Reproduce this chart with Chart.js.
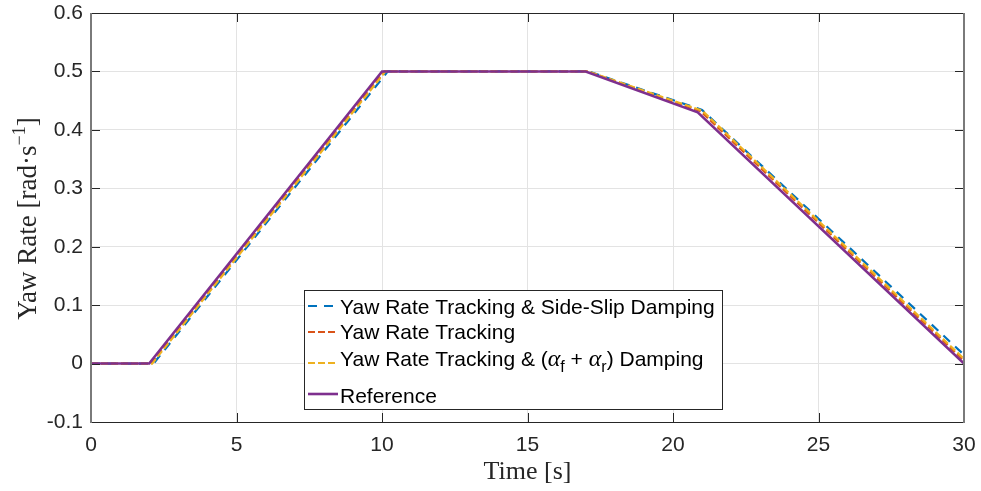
<!DOCTYPE html>
<html><head><meta charset="utf-8">
<script src="https://cdn.jsdelivr.net/npm/chart.js@4/dist/chart.umd.min.js"></script>
<style>html,body{margin:0;padding:0;background:#fff;}#wrap{width:981px;height:491px;position:relative;}</style>
</head><body><div id="wrap"><canvas id="c" width="981" height="491"></canvas></div>
<script>
// ---- data ----
const xTicks = [0, 5, 10, 15, 20, 25, 30];
const xTickLabels = ["0", "5", "10", "15", "20", "25", "30"];
const yTicks = [-0.1, 0, 0.1, 0.2, 0.3, 0.4, 0.5, 0.6];
const yTickLabels = ["-0.1", "0", "0.1", "0.2", "0.3", "0.4", "0.5", "0.6"];
const seriesNames = ["Yaw Rate Tracking & Side-Slip Damping", "Yaw Rate Tracking", "Yaw Rate Tracking & (αf + αr) Damping", "Reference"];
const xTitle = "Time [s]";
const yTitle = "Yaw Rate [rad·s";
const sideSlipT = [0, 2.15, 10.2, 17.1, 21.0, 30];
const sideSlipY = [0, 0, 0.5, 0.5, 0.434, 0.015];
const trackingT = [0, 2.05, 10.08, 17.05, 20.95, 30];
const trackingY = [0, 0, 0.5, 0.5, 0.432, 0.005];
const alphaT = [0, 2.1, 10.12, 17.08, 21.0, 30];
const alphaY = [0, 0, 0.5, 0.5, 0.433, 0.008];
const refT = [0, 2, 10, 17, 20.85, 30];
const refY = [0, 0, 0.5, 0.5, 0.43, 0];

const pts = (t, y) => t.map((v, i) => ({x: v, y: y[i]}));
const colors = ["#0072BD", "#D95319", "#EDB120", "#7E2F8E"];
const dashes = [[9, 7], [7, 3], [7, 3], []];
const widths = [2.2, 2.2, 2.2, 2.6];

const SANS = '"Liberation Sans", Arial, Helvetica, sans-serif';
const SERIF = '"Liberation Serif", "DejaVu Serif", serif';

const frame = {
  id: 'frame',
  afterDatasetsDraw(chart) {
    const {ctx, chartArea: a, scales} = chart;
    ctx.save();
    // inward ticks
    ctx.strokeStyle = '#262626'; ctx.lineWidth = 1;
    const L = 9;
    xTicks.forEach(v => {
      const px = Math.round(scales.x.getPixelForValue(v)) + 0.5;
      ctx.beginPath(); ctx.moveTo(px, a.bottom); ctx.lineTo(px, a.bottom - L);
      ctx.moveTo(px, a.top); ctx.lineTo(px, a.top + L); ctx.stroke();
    });
    yTicks.forEach(v => {
      const py = Math.round(scales.y.getPixelForValue(v)) + 0.5;
      ctx.beginPath(); ctx.moveTo(a.left, py); ctx.lineTo(a.left + L, py);
      ctx.moveTo(a.right, py); ctx.lineTo(a.right - L, py); ctx.stroke();
    });
    ctx.strokeStyle = '#262626'; ctx.lineWidth = 1.2;
    ctx.beginPath();
    ctx.moveTo(a.left, a.top + 0.5); ctx.lineTo(a.right, a.top + 0.5);
    ctx.moveTo(a.left, a.bottom + 0.5); ctx.lineTo(a.right, a.bottom + 0.5);
    ctx.stroke();
    ctx.strokeStyle = '#7a7a7a'; ctx.lineWidth = 2;
    ctx.beginPath();
    ctx.moveTo(a.left, a.top); ctx.lineTo(a.left, a.bottom + 1);
    ctx.moveTo(a.right, a.top); ctx.lineTo(a.right, a.bottom + 1);
    ctx.stroke();

    // axis titles
    ctx.fillStyle = '#262626'; ctx.textBaseline = 'alphabetic';
    ctx.font = '26px ' + SERIF; ctx.textAlign = 'center';
    ctx.fillText(xTitle, (a.left + a.right) / 2, 479);
    ctx.save();
    ctx.translate(36, (a.top + a.bottom) / 2 + 1);
    ctx.rotate(-Math.PI / 2);
    ctx.font = '27px ' + SERIF;
    const w1 = ctx.measureText(yTitle).width;
    ctx.font = '18px ' + SERIF;
    const w2 = ctx.measureText('−1').width;
    ctx.font = '27px ' + SERIF;
    const w3 = ctx.measureText(']').width;
    let sx = -(w1 + w2 + w3) / 2;
    ctx.textAlign = 'left';
    ctx.fillText(yTitle, sx, 0); sx += w1;
    ctx.font = '18px ' + SERIF; ctx.fillText('−1', sx, -11); sx += w2;
    ctx.font = '27px ' + SERIF; ctx.fillText(']', sx, 0);
    ctx.restore();

    // legend box
    const bx = 304.5, by = 290.5, bw = 418, bh = 119;
    ctx.fillStyle = '#fff'; ctx.fillRect(bx, by, bw, bh);
    ctx.strokeStyle = '#262626'; ctx.lineWidth = 1; ctx.strokeRect(bx, by, bw, bh);
    const rows = [307, 332, 359, 396];
    const lines = [306, 332, 363, 394];
    const fs = 21;
    for (let i = 0; i < 4; i++) {
      const y = rows[i];
      ctx.strokeStyle = colors[i]; ctx.lineWidth = widths[i];
      ctx.setLineDash(dashes[i]);
      ctx.beginPath(); ctx.moveTo(308, lines[i]); ctx.lineTo(338, lines[i]); ctx.stroke();
      ctx.setLineDash([]);
      ctx.fillStyle = '#000'; ctx.textBaseline = 'middle'; ctx.textAlign = 'left';
      ctx.font = fs + 'px ' + SANS;
      if (i !== 2) {
        ctx.fillText(seriesNames[i], 340, y + 1);
      } else {
        let x = 340;
        const seg = (txt, font, dy) => { ctx.font = font; ctx.fillText(txt, x, y + 1 + dy); x += ctx.measureText(txt).width; };
        seg('Yaw Rate Tracking & (', fs + 'px ' + SANS, 0);
        seg('α', 'italic 24px ' + SERIF, 0);
        seg('f', '16px ' + SANS, 8);
        seg(' + ', fs + 'px ' + SANS, 0);
        seg('α', 'italic 24px ' + SERIF, 0);
        seg('r', '16px ' + SANS, 8);
        seg(') Damping', fs + 'px ' + SANS, 0);
      }
    }
    ctx.restore();
  }
};

new Chart(document.getElementById('c'), {
  type: 'line',
  data: {
    datasets: [
      {label: seriesNames[0], data: pts(sideSlipT, sideSlipY)},
      {label: seriesNames[1], data: pts(trackingT, trackingY)},
      {label: seriesNames[2], data: pts(alphaT, alphaY)},
      {label: seriesNames[3], data: pts(refT, refY)}
    ].map((d, i) => Object.assign(d, {
      borderColor: colors[i], backgroundColor: colors[i], borderWidth: widths[i],
      borderDash: dashes[i], pointRadius: 0, tension: 0, fill: false, order: 3 - i
    }))
  },
  options: {
    responsive: false, animation: false, devicePixelRatio: 1,
    layout: {padding: {top: 13, right: 17, left: 0, bottom: 0}},
    plugins: {legend: {display: false}, tooltip: {enabled: false}},
    scales: {
      x: {
        type: 'linear', min: 0, max: 30,
        afterBuildTicks: s => { s.ticks = xTicks.map(v => ({value: v})); },
        afterFit: s => { s.height = 69; s.paddingLeft = 0; s.paddingRight = 0; },
        ticks: {callback: (v) => xTickLabels[xTicks.indexOf(v)], color: '#262626', font: {family: SANS, size: 21}, padding: 11, maxRotation: 0, autoSkip: false},
        grid: {color: '#e3e3e3', lineWidth: 1, drawTicks: false},
        border: {display: false},
        title: {display: false}
      },
      y: {
        type: 'linear', min: -0.1, max: 0.6,
        afterBuildTicks: s => { s.ticks = yTicks.map(v => ({value: v})); },
        afterFit: s => { s.width = 91; s.paddingTop = 0; s.paddingBottom = 0; },
        ticks: {callback: (v) => yTickLabels[yTicks.findIndex(t => Math.abs(t - v) < 1e-9)], color: '#262626', font: {family: SANS, size: 21}, padding: 8, autoSkip: false},
        grid: {color: '#e3e3e3', lineWidth: 1, drawTicks: false},
        border: {display: false},
        title: {display: false}
      }
    }
  },
  plugins: [frame]
});
</script></body></html>
